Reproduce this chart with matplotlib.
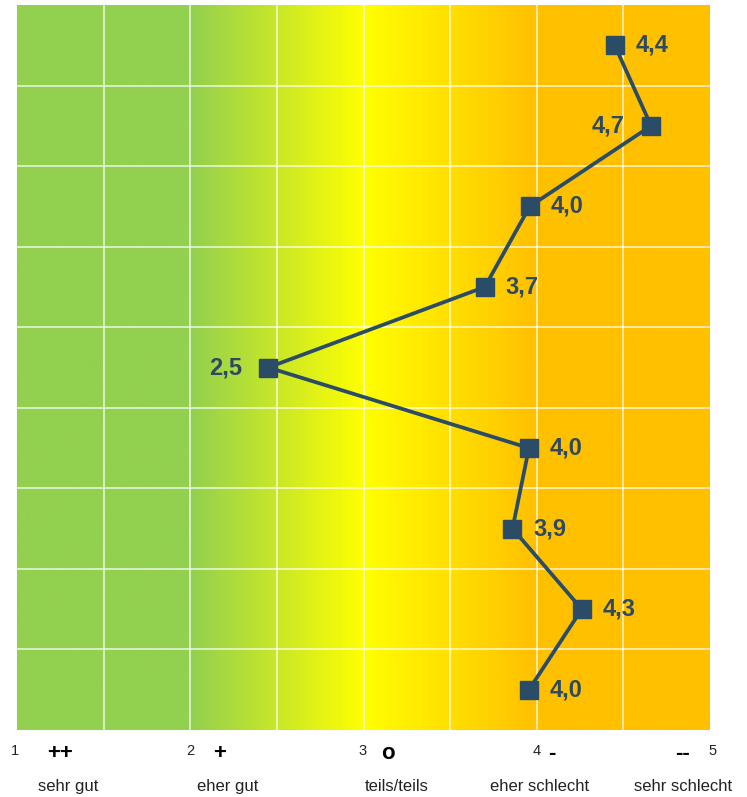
import matplotlib

matplotlib.use("Agg")
import matplotlib.pyplot as plt
import numpy as np
from matplotlib.colors import LinearSegmentedColormap

# marker positions (scale 1..5) from top row to bottom row, and printed labels
values = [4.45, 4.66, 3.96, 3.70, 2.45, 3.955, 3.86, 4.26, 3.955]
value_labels = ["4,4", "4,7", "4,0", "3,7", "2,5", "4,0", "3,9", "4,3", "4,0"]
label_left = [False, True, False, False, True, False, False, False, False]

tick_nums = ["1", "2", "3", "4", "5"]
symbols = ["++", "+", "o", "-", "--"]
descriptions = ["sehr gut", "eher gut", "teils/teils", "eher schlecht", "sehr schlecht"]

# layout: x positions (in scale units) of the text under the chart
num_x = [0.99, 2.0, 2.995, 4.0, 5.015]
symbol_x = [1.248, 2.172, 3.141, 4.088, 4.84]
description_x = [1.294, 2.218, 3.193, 4.019, 4.844]

plt.rcParams["font.family"] = ["Liberation Sans", "DejaVu Sans"]

LINE = "#2b4c66"
TEXT = "#2e4a62"

fig = plt.figure(figsize=(7.47, 7.97), dpi=100)
ax = fig.add_axes([17 / 747, 67 / 797, 693 / 747, 725 / 797])

n = len(values)
cmap = LinearSegmentedColormap.from_list(
    "bg", [(0, "#92d050"), (0.25, "#92d050"), (0.5, "#ffff00"), (0.75, "#ffc000"), (1, "#ffc000")]
)
grad = np.linspace(0, 1, 512).reshape(1, -1)
ax.imshow(grad, cmap=cmap, aspect="auto", extent=[1, 5, 0, n], zorder=0)

for x in np.arange(1.5, 5, 0.5):
    ax.axvline(x, color="white", alpha=0.7, lw=1.3, zorder=1)
for y in range(1, n):
    ax.axhline(y, color="white", alpha=0.7, lw=1.3, zorder=1)

ys = np.arange(n)[::-1] + 0.5
ax.plot(values, ys, color=LINE, lw=2.7, marker="s", ms=13, zorder=3)

for v, y, lab, left in zip(values, ys, value_labels, label_left):
    ax.annotate(lab, (v, y), xytext=(-19 if left else 15, 0), textcoords="offset points",
                ha="right" if left else "left", va="center", fontsize=17,
                fontweight="bold", color=TEXT, zorder=4)

ax.set_xlim(1, 5)
ax.set_ylim(0, n)
ax.set_xticks([])
ax.set_yticks([])
for s in ax.spines.values():
    s.set_visible(False)

tr = ax.get_xaxis_transform()
for nx, t in zip(num_x, tick_nums):
    ax.text(nx, -0.029, t, transform=tr, ha="center", va="center", fontsize=10.5, color="#222222")
for sx, sym in zip(symbol_x, symbols):
    ax.text(sx, -0.032, sym, transform=tr, ha="center", va="center", fontsize=16,
            fontweight="bold", color="black")
for dx, d in zip(description_x, descriptions):
    ax.text(dx, -0.0786, d, transform=tr, ha="center", va="center", fontsize=12, color="#222222")

fig.savefig("out.png", dpi=100)
